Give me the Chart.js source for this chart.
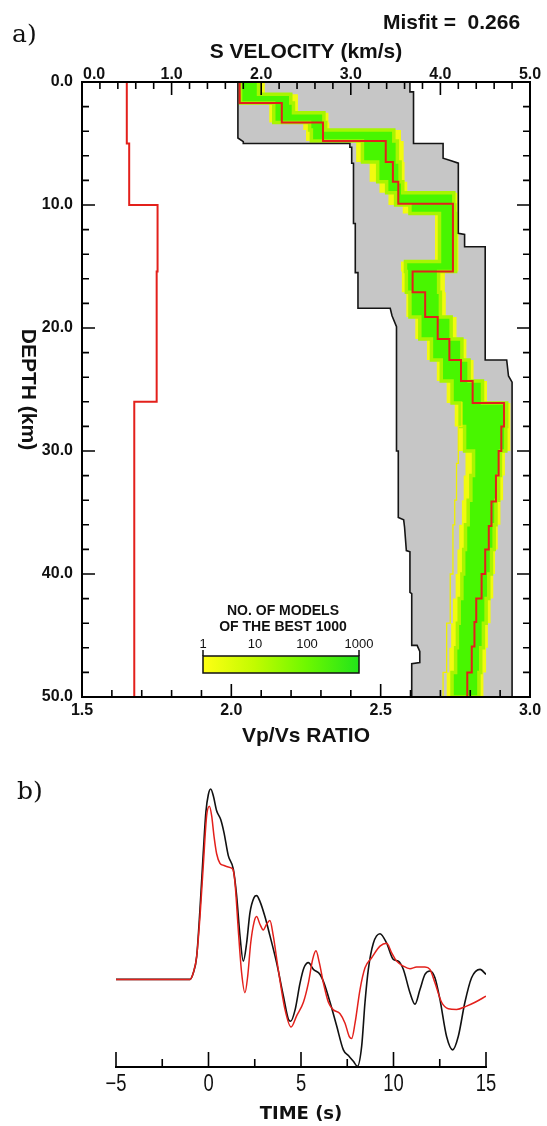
<!DOCTYPE html>
<html>
<head>
<meta charset="utf-8">
<title>Receiver function inversion</title>
<script src="https://cdn.jsdelivr.net/npm/chart.js@4.4.1/dist/chart.umd.min.js"></script>
<style>
  html, body { margin: 0; padding: 0; background: #fff; }
  #page { position: relative; width: 547px; height: 1126px; overflow: hidden; }
  canvas { position: absolute; left: 0; }
  #c1 { top: 0; }
  #c2 { top: 755px; }
  .panel { position: absolute; font-family: "DejaVu Serif", "Liberation Serif", serif; font-size: 25px; line-height: 1; color: #111; }
  #misfit { position: absolute; left: 383px; top: 11px; font: bold 21px "Liberation Sans", Arial, sans-serif; line-height: 1; white-space: pre; color: #111; }
</style>
</head>
<body>
<div id="page">
  <canvas id="c1" width="547" height="755"></canvas>
  <canvas id="c2" width="547" height="371"></canvas>
  <div class="panel" style="left:12px; top:21px;">a)</div>
  <div class="panel" style="left:17px; top:778px;">b)</div>
  <div id="misfit">Misfit =  0.266</div>
</div>
<script>
// ---------- model space (panel a) ----------
const MAX_DEPTH = 50;

// best model: layer tops (km) and S velocity (km/s)
const vsLayerTop = [0, 1.7, 3.3, 4.8, 6.5, 8.1, 9.9, 15.4, 17.1, 19.1, 20.9, 22.6, 24.3, 26.1, 28.0, 30.0, 32.0, 34.1, 36.1, 38.0, 40.0, 42.0, 43.9, 45.9, 48.0];
const vsBest     = [1.76, 2.23, 2.69, 3.39, 3.47, 3.53, 4.14, 3.69, 3.83, 3.97, 4.10, 4.23, 4.36, 4.71, 4.68, 4.65, 4.62, 4.57, 4.54, 4.50, 4.46, 4.40, 4.38, 4.35, 4.30];

// best model: Vp/Vs ratio
const ratioLayerTop = [0, 5.0, 10.0, 15.4, 26.0];
const ratioBest     = [1.650, 1.658, 1.753, 1.750, 1.675];

// envelope of all tested models (slowest / fastest edges)
const envMinDepth = [0, 4.55, 4.85, 5.0, 5.0, 5.3, 5.3, 6.6, 6.6, 11.5, 11.5, 15.5, 15.5, 18.4, 18.4, 19.0, 19.9, 30.0, 30.0, 35.4, 35.6, 36.2, 38.1, 38.2, 41.5, 41.6, 45.8, 45.8, 46.3, 47.2, 47.3, 50];
const envMinVs    = [1.74, 1.74, 1.80, 1.80, 2.99, 2.99, 3.01, 3.01, 3.03, 3.03, 3.05, 3.05, 3.08, 3.08, 3.44, 3.46, 3.51, 3.51, 3.53, 3.53, 3.59, 3.60, 3.62, 3.66, 3.66, 3.68, 3.68, 3.74, 3.77, 3.77, 3.68, 3.68];
const envMaxDepth = [0, 0.8, 0.8, 5.0, 5.0, 6.2, 6.4, 6.6, 12.3, 12.4, 13.4, 13.4, 22.6, 22.6, 23.9, 24.4, 50];
const envMaxVs    = [3.66, 3.66, 3.70, 3.70, 4.03, 4.03, 4.12, 4.20, 4.20, 4.27, 4.27, 4.50, 4.50, 4.74, 4.76, 4.80, 4.80];

// spread of the best 1000 models: outer (few models) and core (many models) bounds
const bandTop      = [0, 1.0, 1.7, 2.5, 3.3, 3.9, 4.8, 6.5, 8.1, 9.0, 10.0, 10.7, 14.6, 15.4, 17.1, 19.1, 20.9, 22.6, 24.3, 26.1, 28.0, 30.0, 32.0, 34.0, 36.0, 38.0, 40.0, 42.0, 44.0, 46.0, 48.0];
const bandOuterMin = [1.75, 1.75, 2.09, 2.09, 2.47, 2.50, 3.06, 3.21, 3.32, 3.42, 3.58, 3.94, 3.56, 3.57, 3.62, 3.72, 3.85, 3.96, 4.07, 4.16, 4.20, 4.28, 4.26, 4.24, 4.21, 4.19, 4.17, 4.14, 4.12, 4.10, 4.07];
const bandCoreMin  = [1.77, 1.77, 2.14, 2.14, 2.54, 2.56, 3.13, 3.30, 3.40, 3.50, 3.66, 3.99, 3.61, 3.62, 3.66, 3.77, 3.90, 4.01, 4.13, 4.22, 4.27, 4.37, 4.34, 4.31, 4.28, 4.26, 4.24, 4.21, 4.19, 4.17, 4.13];
const bandCoreMax  = [1.97, 2.33, 2.36, 2.70, 2.72, 3.48, 3.52, 3.55, 3.58, 4.15, 4.16, 4.17, 4.17, 3.98, 4.00, 4.12, 4.24, 4.32, 4.47, 4.74, 4.73, 4.67, 4.65, 4.62, 4.60, 4.57, 4.54, 4.51, 4.48, 4.45, 4.43];
const bandOuterMax = [2.04, 2.41, 2.41, 2.75, 2.76, 3.56, 3.59, 3.60, 3.63, 4.19, 4.19, 4.20, 4.20, 4.05, 4.06, 4.18, 4.29, 4.37, 4.52, 4.78, 4.78, 4.72, 4.70, 4.67, 4.64, 4.61, 4.59, 4.56, 4.53, 4.51, 4.48];

// a lone slow model among the best 1000
const outlierTop = [26.0, 28.0, 31.0, 34.0, 36.0, 40.0, 44.0, 48.0];
const outlierVs  = [4.24, 4.20, 4.18, 4.16, 4.14, 4.11, 4.07, 4.03];

// axis labels
const velTicks = [0, 1, 2, 3, 4, 5];
const velTickLabels = ['0.0', '1.0', '2.0', '3.0', '4.0', '5.0'];
const ratioTicks = [1.5, 2.0, 2.5, 3.0];
const ratioTickLabels = ['1.5', '2.0', '2.5', '3.0'];
const depthTicks = [0, 10, 20, 30, 40, 50];
const depthTickLabels = ['0.0', '10.0', '20.0', '30.0', '40.0', '50.0'];
const countTicks = [1, 10, 100, 1000];
const countTickLabels = ['1', '10', '100', '1000'];

// ---------- waveforms (panel b) ----------
const obsTime = [-5, -1.0, -0.82, -0.64, -0.46, -0.28, -0.14, -0.01, 0.12, 0.26, 0.44, 0.66, 0.84, 1.07, 1.34, 1.52, 1.70, 1.88, 2.06, 2.24, 2.46, 2.60, 2.78, 3.05, 3.32, 3.68, 4.05, 4.32, 4.44, 4.68, 4.95, 5.16, 5.40, 5.67, 6.03, 6.24, 6.57, 6.93, 7.29, 7.56, 7.83, 8.05, 8.28, 8.46, 8.64, 8.91, 9.27, 9.63, 9.99, 10.26, 10.53, 10.89, 11.16, 11.43, 11.70, 11.97, 12.24, 12.51, 12.87, 13.20, 13.50, 13.86, 14.22, 14.68, 15.0];
const obsAmp  = [0, 0, 0.035, 0.12, 0.37, 0.67, 0.88, 0.97, 1.0, 0.965, 0.886, 0.84, 0.77, 0.65, 0.58, 0.44, 0.23, 0.096, 0.19, 0.35, 0.43, 0.44, 0.41, 0.33, 0.23, 0.088, -0.088, -0.21, -0.22, -0.16, -0.018, 0.061, 0.088, 0.053, 0.026, -0.018, -0.12, -0.245, -0.37, -0.40, -0.43, -0.456, -0.35, -0.12, 0.053, 0.19, 0.24, 0.19, 0.105, 0.096, 0.053, -0.07, -0.13, -0.053, 0.026, 0.044, 0.009, -0.105, -0.30, -0.37, -0.30, -0.12, 0.009, 0.053, 0.026];
const synTime = [-5, -1.0, -0.82, -0.64, -0.46, -0.28, -0.10, 0.05, 0.17, 0.30, 0.44, 0.62, 0.80, 1.07, 1.31, 1.43, 1.61, 1.79, 1.97, 2.12, 2.28, 2.46, 2.60, 2.78, 2.96, 3.14, 3.32, 3.50, 3.77, 4.14, 4.46, 4.77, 5.13, 5.40, 5.63, 5.81, 5.99, 6.21, 6.48, 6.75, 7.11, 7.38, 7.61, 7.74, 7.92, 8.19, 8.46, 8.82, 9.27, 9.63, 9.90, 10.17, 10.53, 10.89, 11.25, 11.70, 11.97, 12.24, 12.60, 12.96, 13.41, 13.95, 14.41, 15.0];
const synAmp  = [0, 0, 0.035, 0.12, 0.33, 0.60, 0.86, 0.91, 0.86, 0.75, 0.66, 0.61, 0.60, 0.59, 0.58, 0.51, 0.26, 0.035, -0.07, 0.018, 0.19, 0.30, 0.33, 0.29, 0.26, 0.29, 0.31, 0.23, 0.053, -0.16, -0.25, -0.19, -0.12, -0.018, 0.105, 0.15, 0.088, -0.018, -0.12, -0.16, -0.18, -0.23, -0.30, -0.31, -0.23, -0.053, 0.061, 0.114, 0.175, 0.19, 0.14, 0.096, 0.07, 0.056, 0.065, 0.065, 0.053, -0.018, -0.12, -0.154, -0.158, -0.14, -0.12, -0.088];
const timeTicks = [-5, 0, 5, 10, 15];
const timeTickLabels = ['\u22125', '0', '5', '10', '15'];

// ---------- helpers ----------
// layered model -> staircase of {x: value, y: depth}
function staircase(tops, vals, bottom) {
  const pts = [];
  for (let i = 0; i < tops.length; i++) {
    const base = i + 1 < tops.length ? tops[i + 1] : bottom;
    pts.push({ x: vals[i], y: tops[i] }, { x: vals[i], y: base });
  }
  return pts;
}
function vertices(depths, vals) {
  return depths.map((d, i) => ({ x: vals[i], y: d }));
}
// closed outline: one edge downward, the other back upward
function ribbon(leftPts, rightPts) {
  return leftPts.concat(rightPts.slice().reverse());
}
function series(xs, ys) {
  return xs.map((t, i) => ({ x: t, y: ys[i] }));
}

const SANS = '"Liberation Sans", Arial, sans-serif';

// frame, inward ticks, labels and colour key of panel a
const frameA = {
  id: 'frameA',
  afterDraw(chart) {
    const { ctx, chartArea: a } = chart;
    const sx = chart.scales.xv, rx = chart.scales.xr, dy = chart.scales.y;
    ctx.save();
    ctx.strokeStyle = '#000';
    ctx.lineWidth = 1.6;
    ctx.beginPath();
    for (let k = 0; k <= 25; k++) {
      const p = sx.getPixelForValue(k * 0.2);
      ctx.moveTo(p, a.top); ctx.lineTo(p, a.top + (k % 5 ? 7 : 13));
    }
    for (let k = 0; k <= 15; k++) {
      const p = rx.getPixelForValue(1.5 + k * 0.1);
      ctx.moveTo(p, a.bottom); ctx.lineTo(p, a.bottom - (k % 5 ? 7 : 13));
    }
    for (let k = 0; k <= 25; k++) {
      const p = dy.getPixelForValue(k * 2);
      const len = k % 5 ? 7 : 13;
      ctx.moveTo(a.left, p); ctx.lineTo(a.left + len, p);
      ctx.moveTo(a.right, p); ctx.lineTo(a.right - len, p);
    }
    ctx.stroke();
    ctx.lineWidth = 2;
    ctx.strokeRect(a.left, a.top, a.right - a.left, a.bottom - a.top);

    ctx.fillStyle = '#111';
    ctx.font = 'bold 16px ' + SANS;
    ctx.textBaseline = 'alphabetic';
    velTicks.forEach((v, i) => {
      const p = sx.getPixelForValue(v);
      ctx.textAlign = i === 0 ? 'left' : 'center';
      ctx.fillText(velTickLabels[i], i === 0 ? p + 1 : p, a.top - 3);
    });
    ctx.textAlign = 'center';
    ratioTicks.forEach((v, i) => {
      ctx.fillText(ratioTickLabels[i], rx.getPixelForValue(v), a.bottom + 18);
    });
    ctx.textAlign = 'right';
    ctx.textBaseline = 'middle';
    depthTicks.forEach((d, i) => {
      ctx.fillText(depthTickLabels[i], a.left - 9, dy.getPixelForValue(d));
    });

    // axis titles
    const midX = (a.left + a.right) / 2;
    ctx.font = 'bold 21px ' + SANS;
    ctx.textAlign = 'center';
    ctx.textBaseline = 'alphabetic';
    ctx.fillText('S VELOCITY (km/s)', midX, 58);
    ctx.fillText('Vp/Vs RATIO', midX, a.bottom + 45);
    ctx.save();
    ctx.translate(28, (a.top + a.bottom) / 2);
    ctx.rotate(Math.PI / 2);
    ctx.textBaseline = 'middle';
    ctx.fillText('DEPTH (km)', 0, 0);
    ctx.restore();

    // colour key: number of models among the best 1000
    const k0 = 203, k1 = 359, kt = 656, kb = 673;
    const g = ctx.createLinearGradient(k0, 0, k1, 0);
    g.addColorStop(0, '#ffff14');
    g.addColorStop(0.33, '#c2fb00');
    g.addColorStop(0.66, '#6ef800');
    g.addColorStop(1, '#22e41a');
    ctx.fillStyle = g;
    ctx.fillRect(k0, kt, k1 - k0, kb - kt);
    ctx.strokeStyle = '#111';
    ctx.lineWidth = 1.5;
    ctx.strokeRect(k0, kt, k1 - k0, kb - kt);
    ctx.beginPath();
    ctx.moveTo(k0, kt); ctx.lineTo(k0, kt - 6);
    ctx.moveTo(k1, kt); ctx.lineTo(k1, kt - 6);
    ctx.stroke();
    ctx.fillStyle = '#111';
    ctx.font = '13px ' + SANS;
    ctx.textAlign = 'center';
    ctx.textBaseline = 'alphabetic';
    countTicks.forEach((c, i) => {
      const p = k0 + (k1 - k0) * Math.log10(c) / 3;
      ctx.fillText(countTickLabels[i], p, kt - 8);
    });
    ctx.font = 'bold 14px ' + SANS;
    ctx.fillText('NO. OF MODELS', 283, 615);
    ctx.fillText('OF THE BEST 1000', 283, 631);
    ctx.restore();
  }
};

const envelopePoly = ribbon(vertices(envMinDepth, envMinVs), vertices(envMaxDepth, envMaxVs));
const outerPoly = ribbon(staircase(bandTop, bandOuterMin, MAX_DEPTH), staircase(bandTop, bandOuterMax, MAX_DEPTH));
const corePoly = ribbon(staircase(bandTop, bandCoreMin, MAX_DEPTH), staircase(bandTop, bandCoreMax, MAX_DEPTH));

new Chart(document.getElementById('c1'), {
  type: 'line',
  data: {
    datasets: [
      { label: 'Vs best', xAxisID: 'xv', yAxisID: 'y', data: staircase(vsLayerTop, vsBest, MAX_DEPTH),
        borderColor: '#e3201b', borderWidth: 2, fill: false, order: 0 },
      { label: 'Vp/Vs best', xAxisID: 'xr', yAxisID: 'y', data: staircase(ratioLayerTop, ratioBest, MAX_DEPTH),
        borderColor: '#e3201b', borderWidth: 2, fill: false, order: 1 },
      { label: 'slowest edge', xAxisID: 'xv', yAxisID: 'y', data: vertices(envMinDepth, envMinVs),
        borderColor: '#151515', borderWidth: 1.6, fill: false, order: 2 },
      { label: 'fastest edge', xAxisID: 'xv', yAxisID: 'y', data: vertices(envMaxDepth, envMaxVs),
        borderColor: '#151515', borderWidth: 1.6, fill: false, order: 3 },
      { label: 'outlier', xAxisID: 'xv', yAxisID: 'y', data: staircase(outlierTop, outlierVs, MAX_DEPTH),
        borderColor: '#eef000', borderWidth: 1.3, fill: false, order: 4 },
      { label: 'core', xAxisID: 'xv', yAxisID: 'y', data: corePoly,
        borderColor: '#a8f500', borderWidth: 3.5, backgroundColor: '#48f600', fill: 'shape', order: 5 },
      { label: 'outer', xAxisID: 'xv', yAxisID: 'y', data: outerPoly,
        borderColor: 'rgba(0,0,0,0)', borderWidth: 0, backgroundColor: '#f2fa10', fill: 'shape', order: 6 },
      { label: 'all models', xAxisID: 'xv', yAxisID: 'y', data: envelopePoly,
        borderColor: 'rgba(0,0,0,0)', borderWidth: 0, backgroundColor: '#c6c6c6', fill: 'shape', order: 7 }
    ]
  },
  options: {
    responsive: false,
    animation: false,
    devicePixelRatio: 1,
    events: [],
    layout: { padding: { left: 82, right: 17, top: 82, bottom: 58 } },
    plugins: { legend: { display: false }, tooltip: { enabled: false } },
    elements: { point: { radius: 0 }, line: { tension: 0, borderJoinStyle: 'miter' } },
    scales: {
      xv: { type: 'linear', position: 'top', min: 0, max: 5, display: false },
      xr: { type: 'linear', position: 'bottom', min: 1.5, max: 3.0, display: false },
      y:  { type: 'linear', reverse: true, min: 0, max: MAX_DEPTH, display: false }
    }
  },
  plugins: [frameA]
});

// time axis of panel b
const axisB = {
  id: 'axisB',
  afterDraw(chart) {
    const { ctx, chartArea: a } = chart;
    const tx = chart.scales.x;
    ctx.save();
    ctx.strokeStyle = '#000';
    ctx.lineWidth = 2;
    ctx.beginPath();
    ctx.moveTo(tx.getPixelForValue(-5) - 1, a.bottom);
    ctx.lineTo(tx.getPixelForValue(15) + 1, a.bottom);
    ctx.stroke();
    ctx.lineWidth = 1.6;
    ctx.beginPath();
    for (let k = 0; k <= 8; k++) {
      const p = tx.getPixelForValue(-5 + 2.5 * k);
      ctx.moveTo(p, a.bottom); ctx.lineTo(p, a.bottom - (k % 2 ? 8 : 15));
    }
    ctx.stroke();
    ctx.fillStyle = '#111';
    ctx.font = '23px "Liberation Sans", Arial, sans-serif';
    ctx.textAlign = 'center';
    ctx.textBaseline = 'alphabetic';
    // narrow numerals: squeeze the label horizontally around its own centre
    timeTicks.forEach((t, i) => {
      ctx.save();
      ctx.translate(tx.getPixelForValue(t), a.bottom + 24);
      ctx.scale(0.8, 1);
      ctx.fillText(timeTickLabels[i], 0, 0);
      ctx.restore();
    });
    ctx.font = 'bold 18px "DejaVu Sans", sans-serif';
    ctx.fillText('TIME (s)', (a.left + a.right) / 2, a.bottom + 52);
    ctx.restore();
  }
};

new Chart(document.getElementById('c2'), {
  type: 'line',
  data: {
    datasets: [
      { label: 'predicted', data: series(synTime, synAmp), borderColor: '#e3201b', borderWidth: 1.5,
        cubicInterpolationMode: 'monotone', fill: false, order: 0 },
      { label: 'observed', data: series(obsTime, obsAmp), borderColor: '#111', borderWidth: 1.6,
        cubicInterpolationMode: 'monotone', fill: false, order: 1 }
    ]
  },
  options: {
    responsive: false,
    animation: false,
    devicePixelRatio: 1,
    events: [],
    layout: { padding: { left: 116, right: 61, top: 15, bottom: 59 } },
    plugins: { legend: { display: false }, tooltip: { enabled: false } },
    elements: { point: { radius: 0 } },
    scales: {
      x: { type: 'linear', min: -5, max: 15, display: false },
      y: { type: 'linear', min: -0.46, max: 1.10, display: false }
    }
  },
  plugins: [axisB]
});
</script>
</body>
</html>
